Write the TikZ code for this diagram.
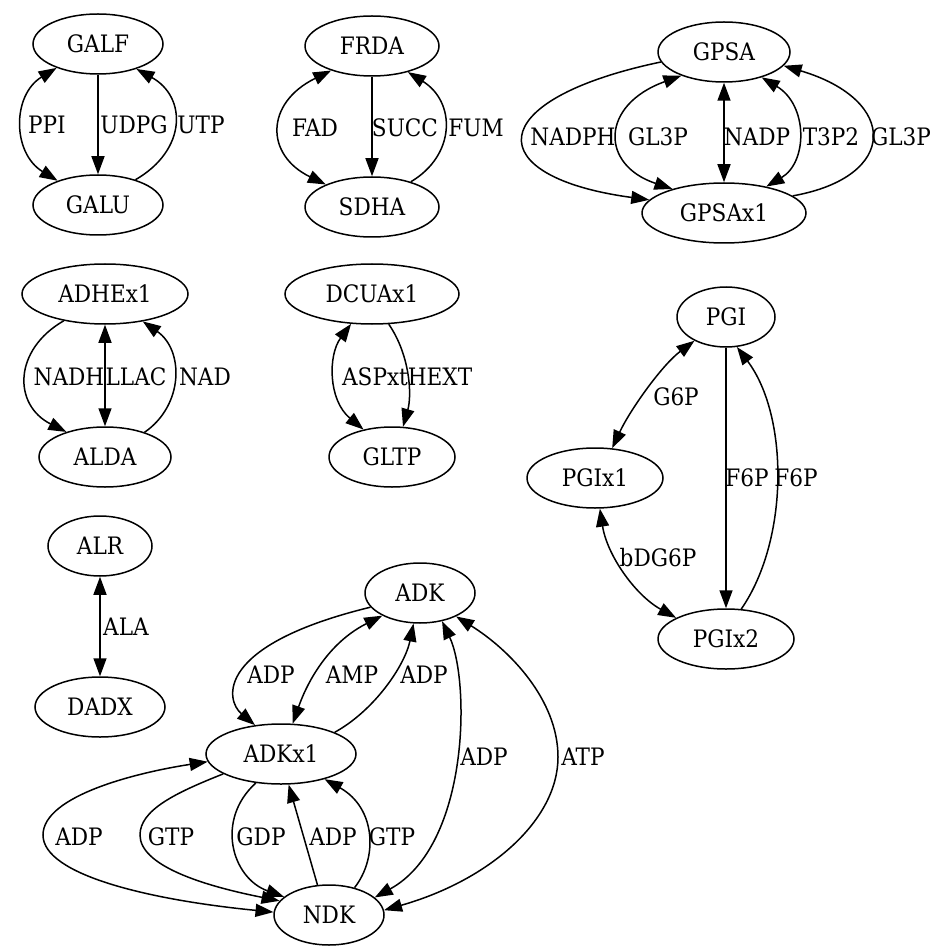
\documentclass[tikz,border=0pt]{standalone}
\usepackage{fontspec}
\setmainfont{DejaVu Serif Condensed}
\usetikzlibrary{shapes.geometric,arrows.meta}
\begin{document}
\begin{tikzpicture}[x=1pt,y=-1pt,
  ell/.style={draw, ellipse, line width=1.5pt, minimum height=60pt, inner sep=0pt, font=\fontsize{24}{28}\selectfont},
  lbl/.style={font=\fontsize{24}{28}\selectfont, inner sep=0pt},
  arr/.style={line width=1.5pt, -{Triangle[length=18pt,width=13pt]}},
  biarr/.style={line width=1.5pt, {Triangle[length=18pt,width=13pt]}-{Triangle[length=18pt,width=13pt]}},
]
\useasboundingbox[fill=white] (0,0) rectangle (935,949);

% ---------- GALF / GALU
\node[ell, minimum width=130pt] (galf) at (98,44) {GALF};
\node[ell, minimum width=130pt] (galu) at (98,205) {GALU};
\draw[biarr] (galf.210) .. controls (12,95) and (12,153) .. (galu.149);
\draw[arr] (galf) -- (galu);
\draw[arr] (galu.34) .. controls (187,150) and (187,97) .. (galf.-33);
\node[lbl] (lppi) at (47,125) {PPI};
\node[lbl] (ludpg) at (134,125) {UDPG};
\node[lbl] (lutp) at (201,125) {UTP};

% ---------- FRDA / SDHA
\node[ell, minimum width=134pt] (frda) at (372,46) {FRDA};
\node[ell, minimum width=134pt] (sdha) at (372,207) {SDHA};
\draw[biarr] (frda.211) .. controls (265,103) and (265,155) .. (sdha.154);
\draw[arr] (frda) -- (sdha);
\draw[arr] (sdha.33) .. controls (456,155) and (456,102) .. (frda.-36);
\node[lbl] (lfad) at (315,128) {FAD};
\node[lbl] (lsucc) at (405,128) {SUCC};
\node[lbl] (lfum) at (476,128) {FUM};

% ---------- GPSA / GPSAx1
\node[ell, minimum width=132pt] (gpsa) at (724,52) {GPSA};
\node[ell, minimum width=164pt] (gpsax) at (724,213) {GPSAx1};
\draw[arr] (gpsa.189) .. controls (480,100) and (480,177) .. (gpsax.170);
\draw[biarr] (gpsa.209) .. controls (600,105) and (600,165) .. (gpsax.155);
\draw[biarr] (gpsa) -- (gpsax);
\draw[biarr] (gpsa.-34) .. controls (808,105) and (808,162) .. (gpsax.32);
\draw[arr] (gpsax.14) .. controls (899,177) and (899,100) .. (gpsa.-13);
\node[lbl] (lnadph) at (573,137) {NADPH};
\node[lbl] (lgl3pa) at (658,137) {GL3P};
\node[lbl] (lnadp) at (757,137) {NADP};
\node[lbl] (lt3p2) at (831,137) {T3P2};
\node[lbl] (lgl3pb) at (901,137) {GL3P};

% ---------- ADHEx1 / ALDA
\node[ell, minimum width=166pt] (adhe) at (105,294) {ADHEx1};
\node[ell, minimum width=132pt] (alda) at (105,457) {ALDA};
\draw[arr] (adhe.213) .. controls (13,350) and (13,405) .. (alda.147);
\draw[biarr] (adhe) -- (alda);
\draw[arr] (alda.32) .. controls (184,405) and (184,350) .. (adhe.-36);
\node[lbl] (lnadh) at (69,377) {NADH};
\node[lbl] (lllac) at (136,377) {LLAC};
\node[lbl] (lnad) at (205,377) {NAD};

% ---------- DCUAx1 / GLTP
\node[ell, minimum width=174pt] (dcua) at (372,294) {DCUAx1};
\node[ell, minimum width=126pt] (gltp) at (392,457) {GLTP};
\draw[biarr] (dcua.235) .. controls (328,355) and (328,400) .. (gltp.136);
\draw[arr] (dcua.-61) .. controls (410,355) and (412,395) .. (gltp.70);
\node[lbl] (laspxt) at (375,377) {ASPxt};
\node[lbl] (lhext) at (440,377) {HEXT};

% ---------- PGI
\node[ell, minimum width=98pt] (pgi) at (726,317) {PGI};
\node[ell, minimum width=136pt] (pgix1) at (595,478) {PGIx1};
\node[ell, minimum width=136pt] (pgix2) at (726,639) {PGIx2};
\draw[biarr] (pgi.217) .. controls (662,365) and (630,410) .. (pgix1.60);
\draw[arr] (pgi) -- (pgix2);
\draw[arr] (pgix2.63) .. controls (789,540) and (789,416) .. (pgi.-70);
\draw[biarr] (pgix1.-81) .. controls (607,555) and (635,595) .. (pgix2.157);
\node[lbl] (lg6p) at (676,397) {G6P};
\node[lbl] (lf6pa) at (747,478) {F6P};
\node[lbl] (lf6pb) at (796,478) {F6P};
\node[lbl] (lbdg6p) at (658,558) {bDG6P};

% ---------- ALR / DADX
\node[ell, minimum width=104pt] (alr) at (100,546) {ALR};
\node[ell, minimum width=130pt] (dadx) at (100,707) {DADX};
\draw[biarr] (alr) -- (dadx);
\node[lbl] (lala) at (126,627) {ALA};

% ---------- ADK / ADKx1 / NDK
\node[ell, minimum width=110pt] (adk) at (420,593) {ADK};
\node[ell, minimum width=150pt] (adkx) at (281,754) {ADKx1};
\node[ell, minimum width=110pt] (ndk) at (329,915) {NDK};
\draw[arr] (adk.196) .. controls (215,645) and (225,700) .. (adkx.132);
\draw[biarr] (adk.211) .. controls (318,648) and (300,703) .. (adkx.69);
\draw[arr] (adkx.22) .. controls (375,710) and (405,665) .. (adk.258);
\draw[biarr] (adk.308) .. controls (470,680) and (470,845) .. (ndk.21);
\draw[biarr] (adk.327) .. controls (510,650) and (558,700) .. (558,757)
   .. controls (558,820) and (490,880) .. (ndk.5);
\draw[biarr] (adkx.186) .. controls (140,772) and (43,795) .. (43,835)
   .. controls (43,875) and (150,900) .. (ndk.177);
\draw[arr] (adkx.199) .. controls (175,793) and (140,810) .. (140,835)
   .. controls (140,865) and (200,885) .. (ndk.164);
\draw[arr] (adkx.229) .. controls (215,820) and (232,878) .. (ndk.158);
\draw[arr] (ndk.111) -- (adkx.284);
\draw[arr] (ndk.47) .. controls (378,858) and (376,808) .. (adkx.330);
\node[lbl] (ladp1) at (271,675) {ADP};
\node[lbl] (lamp) at (352,675) {AMP};
\node[lbl] (ladp2) at (424,675) {ADP};
\node[lbl] (ladp3) at (484,757) {ADP};
\node[lbl] (latp) at (583,757) {ATP};
\node[lbl] (ladp4) at (79,837) {ADP};
\node[lbl] (lgtp1) at (171,837) {GTP};
\node[lbl] (lgdp) at (261,837) {GDP};
\node[lbl] (ladp5) at (333,837) {ADP};
\node[lbl] (lgtp2) at (392,837) {GTP};
\end{tikzpicture}
\end{document}
